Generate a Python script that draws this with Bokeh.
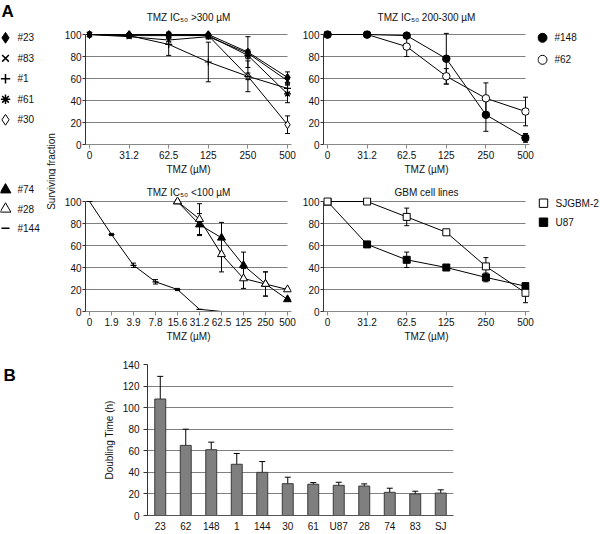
import math
from bokeh.plotting import figure
from bokeh.models import (Range1d, FixedTicker, Whisker, TeeHead, ColumnDataSource,
                          Label, FactorRange)
from bokeh.layouts import row, column
from bokeh.embed import file_html
from bokeh.resources import INLINE
from bokeh.core.properties import value

FONT = "Liberation Sans"
TXT = "#111111"
GRID = "#808080"

# ---------------- Panel A data ----------------
doses = ["0", "31.2", "62.5", "125", "250", "500"]
doses_low = ["0", "1.9", "3.9", "7.8", "15.6", "31.2", "62.5", "125", "250", "500"]

# TMZ IC50 > 300 uM
v23 = [100, 100, 100, 100, 84, 61]
e23 = [0, 1, 2, 1, 14, 5]
v83 = [100, 98, 95, 98, 83, 58]
e83 = [0, 1, 4, 2, 3, 3]
v1 = [100, 99, 91, 75, 62, 51]
e1 = [0, 1, 10, 18, 14, 4]
v61 = [100, 99, 99, 99, 81, 46]
e61 = [0, 1, 2, 1, 3, 8]
v30 = [100, 100, 100, 99, 62, 18]
e30 = [0, 0, 2, 1, 3, 8]

# TMZ IC50 200-300 uM
v148 = [100, 100, 99, 78, 27, 6]
e148 = [0, 0, 2, 23, 15, 4]
v62 = [100, 100, 89, 62, 42, 30]
e62 = [0, 0, 9, 7, 14, 13]

# TMZ IC50 < 100 uM (on doses_low)
v74 = [None, None, None, None, 100, 79, 67, 42, 25, 11]
e74 = [0, 0, 0, 0, 0, 10, 14, 12, 11, 1]
v28 = [None, None, None, None, 100, 84, 52, 30, 25, 20]
e28 = [0, 0, 0, 0, 0, 14, 16, 9, 11, 1]
v144 = [100, 70, 42, 27, 20, 2, 0, None, None, None]
e144 = [0, 1, 2, 2, 1, 0, 0, 0, 0, 0]

# GBM cell lines
vSJ = [100, 100, 86, 72, 41, 17]
eSJ = [0, 1, 8, 2, 8, 9]
vU87 = [100, 61, 47, 40, 31, 23]
eU87 = [0, 2, 7, 2, 4, 2]

# ---------------- Panel B data ----------------
cells = ["23", "62", "148", "1", "144", "30", "61", "U87", "28", "74", "83", "SJ"]
dbl = [108, 65, 61, 47.5, 40, 29.5, 29, 28, 27.3, 21.5, 20, 20.8]
dbl_err = [21, 15, 7, 10, 10, 6, 1.5, 2.8, 2, 3.8, 2.5, 3]

# series: (label, values, errors, marker, fill, size)
S_HIGH = [("#23", v23, e23, "diamond", "black", 8),
          ("#83", v83, e83, "x", "black", 7),
          ("#1", v1, e1, "cross", "black", 7),
          ("#61", v61, e61, "asterisk", "black", 7),
          ("#30", v30, e30, "diamond", "white", 8)]
S_MID = [("#148", v148, e148, "circle", "black", 7.5),
         ("#62", v62, e62, "circle", "white", 7.5)]
S_LOW = [("#74", v74, e74, "triangle", "black", 8),
         ("#28", v28, e28, "triangle", "white", 8),
         ("#144", v144, e144, "dash", "black", 6)]
S_GBM = [("SJGBM-2", vSJ, eSJ, "square", "white", 7),
         ("U87", vU87, eU87, "square", "black", 7)]


def panel(title, xlabels, series, width, height, bl, br, bt, bb, title_standoff,
          first_on_top=True, pad_x=4, pad_top=4):
    n = len(xlabels)
    fw = width - bl - br
    fh = height - bt - bb
    ppx = (fw - 2 * pad_x) / (n - 1)
    ppy = (fh - pad_top) / 100.0
    xr = Range1d(-pad_x / ppx, (n - 1) + pad_x / ppx)
    yr = Range1d(0, 100 + pad_top / ppy)
    p = figure(width=width, height=height, x_range=xr, y_range=yr, title=title,
               output_backend="svg", toolbar_location=None,
               min_border_left=bl, min_border_right=br,
               min_border_top=bt, min_border_bottom=bb)
    p.outline_line_color = None
    p.background_fill_color = "white"
    p.border_fill_color = "white"
    p.title.text_font = FONT
    p.title.text_font_size = "10px"
    p.title.text_font_style = "normal"
    p.title.text_color = TXT
    p.title.align = "center"
    p.title.standoff = title_standoff

    xa = p.xaxis[0]
    xa.ticker = FixedTicker(ticks=list(range(n)))
    xa.major_label_overrides = {i: d for i, d in enumerate(xlabels)}
    xa.axis_label = "TMZ (µM)"
    xa.axis_label_text_font = FONT
    xa.axis_label_text_font_size = "10px"
    xa.axis_label_text_font_style = "normal"
    xa.axis_label_text_color = TXT
    xa.axis_label_standoff = 2
    xa.major_label_text_font = FONT
    xa.major_label_text_font_size = "10px"
    xa.major_label_text_color = TXT
    xa.major_label_standoff = 2
    xa.major_tick_out = 4
    xa.major_tick_in = 0
    xa.minor_tick_out = 0
    xa.axis_line_color = "#888888"
    xa.major_tick_line_color = "#888888"

    ya = p.yaxis[0]
    ya.ticker = FixedTicker(ticks=[0, 20, 40, 60, 80, 100])
    ya.bounds = (0, 100)
    ya.major_label_text_font = FONT
    ya.major_label_text_font_size = "10px"
    ya.major_label_text_color = TXT
    ya.major_label_standoff = 1
    ya.major_tick_out = 3
    ya.major_tick_in = 0
    ya.minor_tick_out = 0
    ya.axis_line_color = "#333333"
    ya.major_tick_line_color = "#333333"

    p.xgrid.visible = False
    g = p.ygrid[0]
    g.ticker = FixedTicker(ticks=[20, 40, 60, 80, 100])
    g.grid_line_color = GRID
    g.grid_line_width = 1
    if "cross_bounds" in g.properties():
        g.cross_bounds = (xr.start, n - 1)

    # lines and error bars first
    for (lab, vals, errs, mk, fill, sz) in series:
        xs = [i for i, v in enumerate(vals) if v is not None]
        ys = [vals[i] for i in xs]
        p.line(xs, ys, line_color="black", line_width=1)
        ex = [i for i in xs if errs[i] > 0]
        if ex:
            src = ColumnDataSource(dict(x=ex,
                                        up=[vals[i] + errs[i] for i in ex],
                                        lo=[vals[i] - errs[i] for i in ex]))
            w = Whisker(source=src, base="x", upper="up", lower="lo",
                        line_color="black", line_width=1,
                        upper_head=TeeHead(size=5, line_color="black", line_width=1),
                        lower_head=TeeHead(size=5, line_color="black", line_width=1))
            p.add_layout(w)
    # markers
    order = list(reversed(series)) if first_on_top else list(series)
    for (lab, vals, errs, mk, fill, sz) in order:
        xs = [i for i, v in enumerate(vals) if v is not None]
        ys = [vals[i] for i in xs]
        p.scatter(xs, ys, marker=mk, size=sz, fill_color=fill, line_color="black",
                  line_width=1.2 if mk in ("x", "cross", "asterisk", "dash") else 1)
    return p


def strip(width, height):
    s = figure(width=width, height=height, x_range=Range1d(0, width),
               y_range=Range1d(height, 0), x_axis_type=None, y_axis_type=None,
               output_backend="svg", toolbar_location=None, min_border=0)
    s.outline_line_color = None
    s.grid.visible = False
    return s


def legend_block(s, series, x0, y0, dy, big=1.35):
    ys = [y0 + k * dy for k in range(len(series))]
    for (lab, vals, errs, mk, fill, sz), y in zip(series, ys):
        s.scatter([x0], [y], marker=mk, size=sz * big, fill_color=fill,
                  line_color="black",
                  line_width=1.5 if mk in ("x", "cross", "asterisk", "dash") else 1)
    s.text([x0 + 12] * len(series), ys, text=[t[0] for t in series],
           text_font=value(FONT), text_font_size="10px", text_color=TXT,
           text_baseline="middle", text_align="left")


# ---------------- layout geometry ----------------
TOP_H1, TOP_H2 = 178, 167

L = strip(56, TOP_H1 + TOP_H2)
L.add_layout(Label(x=1, y=1, text="A", text_font=FONT, text_font_size="17px",
                   text_font_style="bold", text_color="black", text_baseline="top"))
legend_block(L, S_HIGH, 5, 37.3, 20.5)
legend_block(L, S_LOW, 5, 189.3, 19.2)
L.add_layout(Label(x=51, y=171, text="Surviving fraction", angle=90, angle_units="deg",
                   text_font=FONT, text_font_size="10px", text_color=TXT,
                   text_align="center", text_baseline="middle"))

R = strip(63, TOP_H1 + TOP_H2)
legend_block(R, S_MID, 5, 37.3, 22, big=1.2)
legend_block(R, S_GBM, 6, 202.7, 19, big=1.2)

p1 = panel("TMZ IC₅₀ >300 µM", doses, S_HIGH, 240, TOP_H1, 29, 5, 30, 34, 16)
p2 = panel("TMZ IC₅₀ 200-300 µM", doses, S_MID, 241, TOP_H1, 27, 8, 30, 34, 16)
p3 = panel("TMZ IC₅₀ <100 µM", doses_low, S_LOW, 240, TOP_H2, 29, 5, 19, 34, 0,
           first_on_top=False)
p4 = panel("GBM cell lines", doses, S_GBM, 241, TOP_H2, 27, 8, 19, 34, 0)

# ---------------- Panel B ----------------
B_H = 189
LB = strip(90, B_H)
LB.add_layout(Label(x=3, y=2, text="B", text_font=FONT, text_font_size="17px",
                    text_font_style="bold", text_color="black", text_baseline="top"))

pB = figure(width=510, height=B_H, x_range=FactorRange(*cells), y_range=Range1d(0, 140),
            output_backend="svg", toolbar_location=None,
            min_border_left=57, min_border_right=147, min_border_top=19,
            min_border_bottom=17)
pB.outline_line_color = None
srcB = ColumnDataSource(dict(cell=cells, t=dbl,
                             up=[v + e for v, e in zip(dbl, dbl_err)],
                             lo=[v - e for v, e in zip(dbl, dbl_err)]))
pB.vbar(x="cell", top="t", width=0.43, source=srcB, fill_color="#7f7f7f",
        line_color="#3a3a3a", line_width=1)
pB.add_layout(Whisker(source=srcB, base="cell", upper="up", lower="lo",
                      line_color="black", line_width=1,
                      upper_head=TeeHead(size=6, line_color="black", line_width=1),
                      lower_head=TeeHead(size=6, line_color="black", line_width=1)))
pB.xgrid.visible = False
pB.ygrid.ticker = FixedTicker(ticks=[20, 40, 60, 80, 100, 120, 140])
pB.ygrid.grid_line_color = GRID
yb = pB.yaxis[0]
yb.ticker = FixedTicker(ticks=[0, 20, 40, 60, 80, 100, 120, 140])
yb.axis_label = "Doubling Time (h)"
yb.axis_label_text_font = FONT
yb.axis_label_text_font_size = "10px"
yb.axis_label_text_font_style = "normal"
yb.axis_label_text_color = TXT
yb.axis_label_standoff = 5
yb.major_label_text_font = FONT
yb.major_label_text_font_size = "10px"
yb.major_label_text_color = TXT
yb.major_label_standoff = 4
yb.major_tick_out = 4
yb.major_tick_in = 0
yb.minor_tick_out = 0
yb.axis_line_color = "#333333"
yb.major_tick_line_color = "#333333"
xb = pB.xaxis[0]
xb.major_label_text_font = FONT
xb.major_label_text_font_size = "10px"
xb.major_label_text_color = TXT
xb.major_label_standoff = 5
xb.major_tick_out = 0
xb.major_tick_in = 0
xb.axis_line_color = "#555555"

top = row(L, column(p1, p3), column(p2, p4), R)
bottom = row(LB, pB)
page = column(top, bottom)

open("out.html", "w").write(file_html(page, INLINE))
